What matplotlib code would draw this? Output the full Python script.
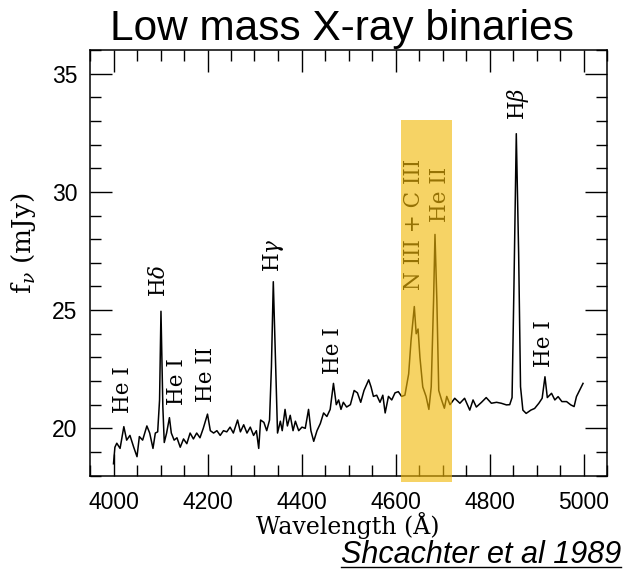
import matplotlib
matplotlib.use("Agg")
import matplotlib.pyplot as plt
from matplotlib.patches import Rectangle
from matplotlib.lines import Line2D
from matplotlib.ticker import MultipleLocator

plt.rcParams['font.family'] = ['Liberation Sans', 'DejaVu Sans']
plt.rcParams['mathtext.fontset'] = 'dejavuserif'

# spectrum (wavelength in Angstrom, flux in mJy)
wavelength = [4000, 4003, 4007, 4014, 4022, 4028, 4035, 4043, 4050, 4055,
              4062, 4071, 4077, 4084, 4089, 4094, 4098, 4101, 4105, 4108,
              4113, 4119, 4123, 4129, 4135, 4142, 4149, 4156, 4163, 4170,
              4177, 4184, 4191, 4200, 4206, 4213, 4220, 4227, 4234, 4241,
              4248, 4255, 4264, 4270, 4277, 4284, 4291, 4298, 4304, 4309,
              4313, 4320, 4326, 4332, 4336, 4340, 4345, 4349, 4355, 4359,
              4365, 4370, 4376, 4382, 4387, 4394, 4401, 4408, 4415, 4420,
              4426, 4433, 4440, 4447, 4454, 4461, 4468, 4474, 4479, 4484,
              4489, 4496, 4504, 4512, 4519, 4526, 4533, 4543, 4548, 4553,
              4560, 4567, 4573, 4578, 4585, 4592, 4599, 4606, 4613, 4620,
              4628, 4633, 4640, 4644, 4648, 4652, 4658, 4665, 4671, 4676,
              4681, 4684, 4688, 4692, 4698, 4704, 4709, 4716, 4726, 4737,
              4747, 4758, 4765, 4772, 4783, 4793, 4804, 4815, 4825, 4836,
              4843, 4848, 4852, 4857, 4862, 4866, 4871, 4878, 4888, 4896,
              4905, 4912, 4918, 4923, 4932, 4939, 4946, 4954, 4964, 4973,
              4980, 4985, 4992, 4999]
flux = [18.5, 19.2, 19.37, 19.15, 20.07, 19.5, 19.7, 19.2, 18.8, 19.65,
        19.5, 20.1, 19.8, 19.15, 19.8, 19.85, 21.2, 24.95, 20.9, 19.4,
        19.8, 20.45, 19.8, 19.5, 19.6, 19.2, 19.55, 19.35, 19.8, 19.55,
        19.8, 19.6, 20.0, 20.6, 19.9, 19.8, 19.9, 19.7, 19.9, 19.85,
        20.05, 19.8, 20.35, 19.85, 20.15, 19.8, 20.05, 19.7, 19.9, 19.15,
        20.35, 20.25, 19.9, 20.35, 22.6, 26.2, 22.6, 19.8, 20.3, 19.9,
        20.8, 20.1, 20.55, 19.9, 20.3, 19.9, 20.05, 20.0, 20.8, 19.9,
        19.45, 19.9, 20.2, 20.65, 20.5, 20.8, 21.9, 21.0, 21.2, 20.8,
        21.1, 20.9, 21.0, 21.6, 21.5, 21.1, 21.6, 22.05, 21.75, 21.35,
        21.4, 21.1, 21.4, 20.65, 21.35, 21.2, 21.5, 21.55, 21.35, 21.4,
        22.3, 23.7, 25.15, 24.0, 24.2, 23.0, 21.75, 21.35, 20.8, 21.75,
        25.4, 28.2, 25.4, 21.6, 21.2, 20.85, 21.35, 21.0, 21.27, 21.06,
        21.27, 20.77, 21.2, 20.9, 21.1, 21.3, 21.06, 21.1, 21.06, 20.99,
        21.0, 21.3, 25.98, 32.46, 27.4, 21.76, 20.77, 20.63, 20.77, 20.84,
        21.06, 21.27, 22.18, 21.3, 21.48, 21.2, 21.34, 21.13, 21.13, 20.99,
        20.92, 21.34, 21.62, 21.9]

# line identifications: label, wavelength, flux at the bottom of the label
line_labels = ['He I', r'H$\delta$', 'He I', 'He II', r'H$\gamma$', 'He I',
               'N III + C III', 'He II', r'H$\beta$', 'He I']
line_x = [4021, 4097, 4135, 4197, 4340, 4468, 4639, 4694, 4860, 4915]
line_y = [20.65, 25.55, 20.98, 21.1, 26.6, 22.3, 25.84, 28.73, 33.03, 22.6]

# highlighted band (N III + C III / He II)
band_x = [4611, 4720]
band_y = [17.73, 33.03]

fig = plt.figure(figsize=(6.26, 5.71), dpi=100)
ax = fig.add_axes([90 / 626, 1 - 475.6 / 571, 517 / 626, 425.6 / 571])

ax.plot(wavelength, flux, color='black', lw=1.1, zorder=2)

for s, x, y in zip(line_labels, line_x, line_y):
    ax.text(x, y, s, rotation=90, ha='center', va='bottom',
            family='DejaVu Serif', fontsize=15.5, zorder=3)

ax.add_patch(Rectangle((band_x[0], band_y[0]), band_x[1] - band_x[0],
                       band_y[1] - band_y[0], facecolor='#F2B807',
                       edgecolor='none', alpha=0.62, zorder=4, clip_on=False))

ax.set_xlim(3950, 5050)
ax.set_ylim(18, 36)
ax.xaxis.set_major_locator(MultipleLocator(200))
ax.xaxis.set_minor_locator(MultipleLocator(50))
ax.yaxis.set_major_locator(MultipleLocator(5))
ax.yaxis.set_minor_locator(MultipleLocator(1))
ax.tick_params(which='both', direction='in', top=True, right=True,
               width=1.0, labelsize=16.5)
ax.tick_params(which='major', length=16)
ax.tick_params(which='minor', length=8)
ax.tick_params(axis='x', pad=11)
ax.tick_params(axis='y', pad=9)
for sp in ax.spines.values():
    sp.set_linewidth(1.1)

ax.set_xlabel('Wavelength (Å)', family='DejaVu Serif', fontsize=17)
ax.set_ylabel(r'f$_\nu$ (mJy)', family='DejaVu Serif', fontsize=19)
ax.xaxis.set_label_coords(0.498, -0.086)
ax.yaxis.set_label_coords(-0.1, 0.545)

fig.text(342 / 626, 1 - 40 / 571, 'Low mass X-ray binaries',
         ha='center', va='baseline', fontsize=30.5)

cite = fig.text(621 / 626, 1 - 563 / 571, 'Shcachter et al 1989',
                ha='right', va='baseline', fontsize=22, style='italic')
fig.canvas.draw()
bb = cite.get_window_extent().transformed(fig.transFigure.inverted())
fig.add_artist(Line2D([bb.x0, bb.x1], [1 - 567 / 571] * 2, color='black',
                      lw=1.0, transform=fig.transFigure))

fig.savefig('out.png', dpi=100)
